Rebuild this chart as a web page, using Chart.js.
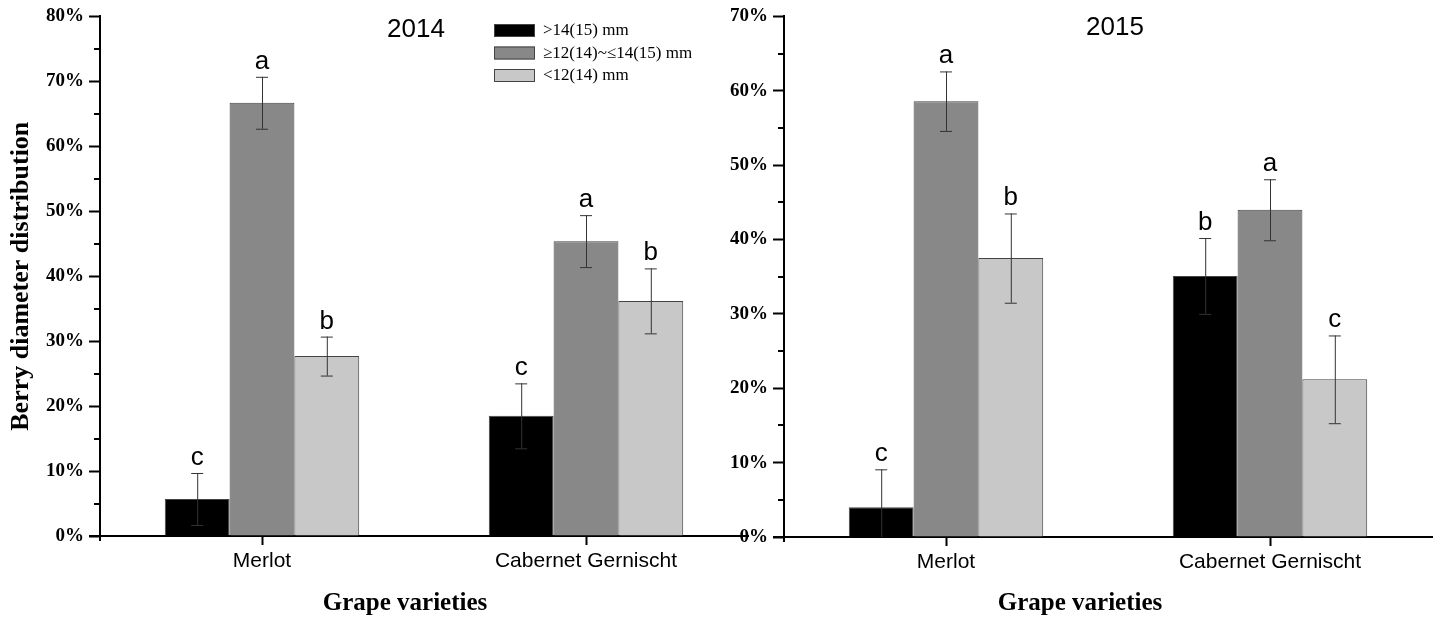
<!DOCTYPE html>
<html>
<head>
<meta charset="utf-8">
<script src="https://cdn.jsdelivr.net/npm/chart.js@4.4.1/dist/chart.umd.min.js"></script>
<style>
  body { margin: 0; background: #fff; }
  #wrap { position: relative; width: 1439px; height: 619px; overflow: hidden; }
  canvas { position: absolute; top: 0; }
</style>
</head>
<body>
<div id="wrap">
  <canvas id="c2014" width="760" height="619" style="left:0px"></canvas>
  <canvas id="c2015" width="739" height="619" style="left:700px"></canvas>
</div>
<script>
// categories and series
var categories = ['Merlot', 'Cabernet Gernischt'];
var seriesLabels = ['>14(15) mm', '\u226512(14)~\u226414(15) mm', '<12(14) mm'];
var seriesColors = ['#000000', '#888888', '#c8c8c8'];

// 2014 (percent)
var large2014 = [5.7, 18.5];
var mid2014 = [66.7, 45.4];
var small2014 = [27.7, 36.2];
var largeErr2014 = [4.0, 5.0];
var midErr2014 = [4.0, 4.0];
var smallErr2014 = [3.0, 5.0];
var largeLet2014 = ['c', 'c'];
var midLet2014 = ['a', 'a'];
var smallLet2014 = ['b', 'b'];

// 2015 (percent)
var large2015 = [4.0, 35.1];
var mid2015 = [58.6, 44.0];
var small2015 = [37.5, 21.2];
var largeErr2015 = [5.1, 5.1];
var midErr2015 = [4.0, 4.1];
var smallErr2015 = [6.0, 5.9];
var largeLet2015 = ['c', 'b'];
var midLet2015 = ['a', 'a'];
var smallLet2015 = ['b', 'c'];

var SERIF = '"Liberation Serif", "Times New Roman", serif';
var SANS = '"Liberation Sans", Arial, sans-serif';

function makeDatasets(vals, errs, lets) {
  var ds = [];
  for (var i = 0; i < vals.length; i++) {
    ds.push({
      label: seriesLabels[i],
      data: vals[i],
      errs: errs[i],
      letters: lets[i],
      backgroundColor: seriesColors[i],
      borderColor: '#444',
      borderWidth: 1,
      categoryPercentage: 0.6,
      barPercentage: 1.0
    });
  }
  return ds;
}

// error bars, letters, minor ticks, axis extensions, titles, legend
var extras = {
  id: 'extras',
  afterDatasetsDraw: function(chart, args, opts) {
    var ctx = chart.ctx;
    var y = chart.scales.y;
    var area = chart.chartArea;
    ctx.save();
    chart.data.datasets.forEach(function(ds, di) {
      var meta = chart.getDatasetMeta(di);
      meta.data.forEach(function(bar, i) {
        var v = ds.data[i], e = ds.errs[i];
        var yt = y.getPixelForValue(v + e);
        var yb = y.getPixelForValue(Math.max(v - e, 0));
        ctx.strokeStyle = '#333';
        ctx.lineWidth = 1;
        ctx.beginPath();
        ctx.moveTo(bar.x + 0.5, yt); ctx.lineTo(bar.x + 0.5, yb);
        ctx.moveTo(bar.x - 6, yt + 0.5); ctx.lineTo(bar.x + 6, yt + 0.5);
        if (v - e > 0) { ctx.moveTo(bar.x - 6, yb + 0.5); ctx.lineTo(bar.x + 6, yb + 0.5); }
        ctx.stroke();
        ctx.fillStyle = '#000';
        ctx.font = '26px ' + SANS;
        ctx.textAlign = 'center';
        ctx.textBaseline = 'alphabetic';
        ctx.fillText(ds.letters[i], bar.x, yt - 8);
      });
    });

    // minor ticks
    ctx.strokeStyle = '#000';
    ctx.lineWidth = 2;
    ctx.beginPath();
    for (var m = 5; m < y.max; m += 10) {
      var py = Math.round(y.getPixelForValue(m));
      ctx.moveTo(area.left - 6, py); ctx.lineTo(area.left, py);
    }
    // axis extensions
    ctx.moveTo(area.left - 11, area.bottom); ctx.lineTo(area.left, area.bottom);
    ctx.moveTo(area.left, area.bottom); ctx.lineTo(area.left, area.bottom + 5);
    ctx.stroke();

    // year title
    ctx.fillStyle = '#000';
    ctx.font = '26px ' + SANS;
    ctx.textAlign = 'center';
    ctx.textBaseline = 'middle';
    ctx.fillText(opts.year, opts.yearX, opts.yearY);

    // x axis title
    ctx.font = 'bold 25px ' + SERIF;
    ctx.fillText('Grape varieties', opts.xTitleX, 604);

    // legend
    if (opts.legend) {
      ctx.font = '17px ' + SERIF;
      ctx.textAlign = 'left';
      chart.data.datasets.forEach(function(ds, di) {
        var top = 24 + di * 22.5;
        ctx.fillStyle = ds.backgroundColor;
        ctx.fillRect(494, top, 41, 13);
        ctx.strokeStyle = '#444';
        ctx.lineWidth = 1;
        ctx.strokeRect(494.5, top + 0.5, 40, 12);
        ctx.fillStyle = '#000';
        ctx.fillText(ds.label, 543, top + 7);
      });
    }
    ctx.restore();
  }
};

function makeChart(id, datasets, ymax, yWidth, padRight, xHeight, showYTitle, extraOpts) {
  return new Chart(document.getElementById(id), {
    type: 'bar',
    data: { labels: categories, datasets: datasets },
    plugins: [extras],
    options: {
      responsive: false,
      animation: false,
      layout: { padding: { top: 14, left: 0, right: padRight, bottom: 0 } },
      plugins: {
        legend: { display: false },
        tooltip: { enabled: false },
        extras: extraOpts
      },
      scales: {
        x: {
          offset: true,
          afterFit: function(s) { s.height = xHeight; },
          grid: { display: true, drawOnChartArea: false, offset: false, tickLength: 9, tickWidth: 2, tickColor: '#000' },
          border: { display: true, color: '#000', width: 2 },
          ticks: { color: '#000', font: { family: SANS, size: 21 }, padding: 4 }
        },
        y: {
          min: 0,
          max: ymax,
          afterFit: function(s) { s.width = yWidth; },
          grid: { display: true, drawOnChartArea: false, tickLength: 11, tickWidth: 2, tickColor: '#000' },
          border: { display: true, color: '#000', width: 2 },
          ticks: {
            stepSize: 10,
            color: '#000',
            padding: 5,
            font: { family: SERIF, size: 19, weight: 'bold' },
            callback: function(v) { return v + '%'; }
          },
          title: {
            display: showYTitle,
            text: 'Berry diameter distribution',
            color: '#000',
            font: { family: SERIF, size: 26, weight: 'bold' },
            padding: { top: 6, bottom: 0 }
          }
        }
      }
    }
  });
}

makeChart('c2014',
  makeDatasets([large2014, mid2014, small2014], [largeErr2014, midErr2014, smallErr2014], [largeLet2014, midLet2014, smallLet2014]),
  80, 100, 12, 83, true,
  { year: '2014', yearX: 416, yearY: 30, xTitleX: 405, legend: true });

makeChart('c2015',
  makeDatasets([large2015, mid2015, small2015], [largeErr2015, midErr2015, smallErr2015], [largeLet2015, midLet2015, smallLet2015]),
  70, 84, 7, 82, false,
  { year: '2015', yearX: 415, yearY: 28, xTitleX: 380, legend: false });
</script>
</body>
</html>
